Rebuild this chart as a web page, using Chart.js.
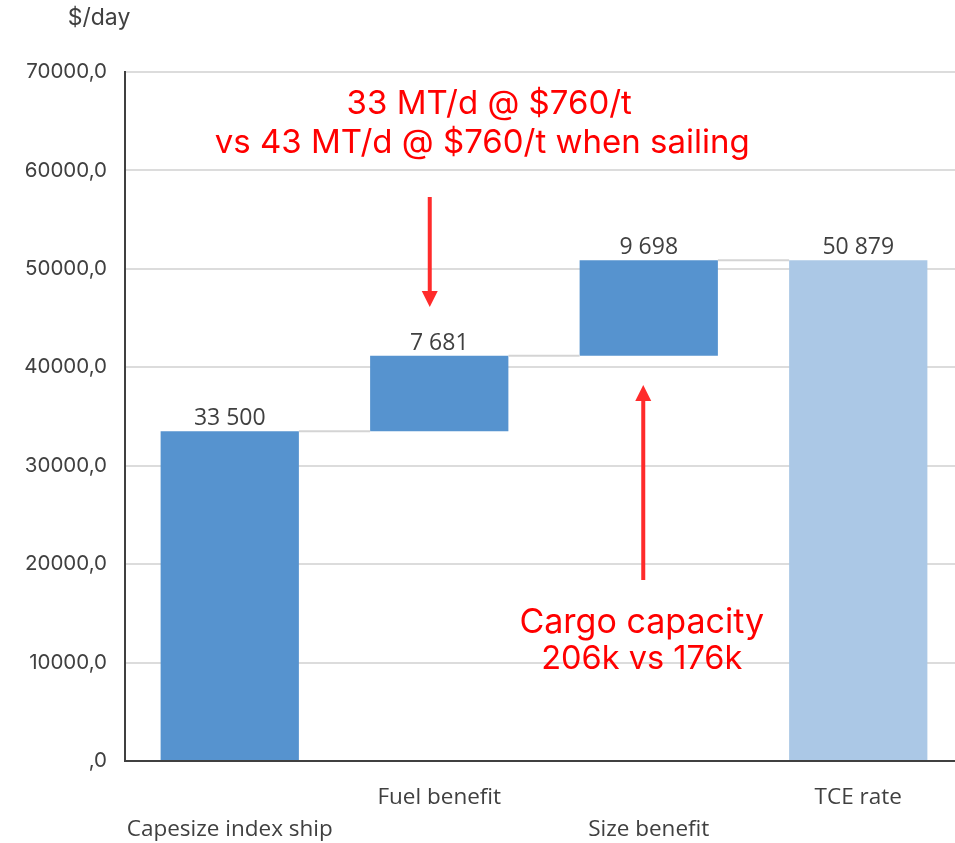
<!DOCTYPE html>
<html>
<head>
<meta charset="utf-8">
<script src="https://cdn.jsdelivr.net/npm/chart.js@4/dist/chart.umd.min.js"></script>
<style>
  html, body { margin: 0; padding: 0; background: #fff; overflow: hidden; }
  #wrap { position: relative; width: 965px; height: 843px; }
</style>
</head>
<body>
<div id="wrap"><canvas id="c" width="965" height="843"></canvas></div>
<script>
// Waterfall: daily earnings build-up from index ship to TCE rate
const categories = ['Capesize index ship', 'Fuel benefit', 'Size benefit', 'TCE rate'];
const values = [33500, 7681, 9698, 50879];
const isTotal = [false, false, false, true];
const yMin = 0, yMax = 70000, yStep = 10000;
const yUnit = '$/day';
const fuelNote = ['33 MT/d @ $760/t', 'vs 43 MT/d @ $760/t when sailing'];
const sizeNote = ['Cargo capacity', '206k vs 176k'];

const STEP_COLOR = '#5693cf';
const TOTAL_COLOR = '#abc8e6';
const TEXT = '#404040';
const RED = '#ff0000';
const ARROW = '#ff2b2b';

// floating [start, end] ranges built from the step values
const ranges = [];
let run = 0;
values.forEach((v, i) => {
  if (isTotal[i]) { ranges.push([0, v]); run = v; }
  else { ranges.push([run, run + v]); run += v; }
});

const fmtTick = v => (v === 0 ? '' : String(v)) + ',0';
const fmtLabel = v => String(v).replace(/\B(?=(\d{3})+(?!\d))/g, ' ');

function arrow(ctx, x, yFrom, yTo) {
  const dir = yTo > yFrom ? 1 : -1;
  const headLen = 16, headHalf = 8;
  ctx.save();
  ctx.strokeStyle = ARROW; ctx.fillStyle = ARROW; ctx.lineWidth = 4;
  ctx.beginPath(); ctx.moveTo(x, yFrom); ctx.lineTo(x, yTo - dir * headLen); ctx.stroke();
  ctx.beginPath();
  ctx.moveTo(x - headHalf, yTo - dir * headLen);
  ctx.lineTo(x + headHalf, yTo - dir * headLen);
  ctx.lineTo(x, yTo);
  ctx.closePath(); ctx.fill();
  ctx.restore();
}

const overlay = {
  id: 'overlay',
  afterDatasetsDraw(chart) {
    const ctx = chart.ctx;
    const xs = chart.scales.x, ys = chart.scales.y;
    const meta = chart.getDatasetMeta(0);

    // connector lines between consecutive bars
    ctx.save();
    ctx.strokeStyle = '#d4d4d4'; ctx.lineWidth = 2;
    for (let i = 0; i < meta.data.length - 1; i++) {
      const a = meta.data[i], b = meta.data[i + 1];
      const y = ys.getPixelForValue(ranges[i][1]);
      ctx.beginPath();
      ctx.moveTo(a.x + a.width / 2, y); ctx.lineTo(b.x - b.width / 2, y);
      ctx.stroke();
    }
    ctx.restore();

    // value labels above bars
    ctx.save();
    ctx.fillStyle = TEXT; ctx.font = '23px "Open Sans", sans-serif';
    ctx.textAlign = 'center'; ctx.textBaseline = 'bottom';
    meta.data.forEach((bar, i) => {
      ctx.fillText(fmtLabel(values[i]), bar.x, ys.getPixelForValue(ranges[i][1]) - 1);
    });
    ctx.restore();

    // unit caption
    ctx.save();
    ctx.fillStyle = TEXT; ctx.font = '23px Inter, sans-serif';
    ctx.textAlign = 'center'; ctx.textBaseline = 'middle';
    ctx.fillText(yUnit, 99, 18);
    ctx.restore();

    // annotations
    ctx.save();
    ctx.fillStyle = RED; ctx.font = '33px Inter, sans-serif';
    ctx.textAlign = 'center'; ctx.textBaseline = 'middle';
    const c1 = xs.getPixelForValue(1);
    ctx.fillText(fuelNote[0], c1 + 50, ys.getPixelForValue(66750));
    ctx.fillText(fuelNote[1], c1 + 43, ys.getPixelForValue(62800));
    const c2 = xs.getPixelForValue(2);
    ctx.font = '34px Inter, sans-serif';
    ctx.fillText(sizeNote[0], c2 - 7, ys.getPixelForValue(14080));
    ctx.font = '32.5px Inter, sans-serif';
    ctx.fillText(sizeNote[1], c2 - 7, ys.getPixelForValue(10320));
    ctx.restore();

    arrow(ctx, c1 - 9.5, ys.getPixelForValue(57300), ys.getPixelForValue(46125));
    arrow(ctx, c2 - 5.5, ys.getPixelForValue(18400), ys.getPixelForValue(38200));
  }
};

new Chart(document.getElementById('c'), {
  type: 'bar',
  data: {
    labels: categories,
    datasets: [{
      data: ranges,
      backgroundColor: isTotal.map(t => t ? TOTAL_COLOR : STEP_COLOR),
      borderWidth: 0,
      categoryPercentage: 1,
      barPercentage: 0.66
    }]
  },
  options: {
    responsive: false,
    animation: false,
    layout: { padding: { top: 72, right: 2, left: 0, bottom: 0 } },
    plugins: { legend: { display: false }, tooltip: { enabled: false } },
    scales: {
      x: {
        grid: { display: false, drawTicks: false },
        border: { display: true, color: TEXT, width: 2 },
        ticks: {
          color: TEXT, padding: 21, maxRotation: 0, autoSkip: false,
          font: { family: '"Open Sans", sans-serif', size: 22.5, lineHeight: 1.42 },
          callback: (v, i) => i % 2 === 0 ? ['', categories[i]] : [categories[i], '']
        },
        afterFit: s => { s.height = 82; }
      },
      y: {
        min: yMin, max: yMax,
        grid: { color: '#dcdcdc', lineWidth: 2, drawTicks: false },
        border: { display: true, color: TEXT, width: 2 },
        ticks: {
          stepSize: yStep, color: TEXT, padding: 18,
          font: { family: 'Inter, sans-serif', size: 20.5 },
          callback: v => fmtTick(v)
        },
        afterFit: s => { s.width = 125; }
      }
    }
  },
  plugins: [overlay]
});
</script>
</body>
</html>
